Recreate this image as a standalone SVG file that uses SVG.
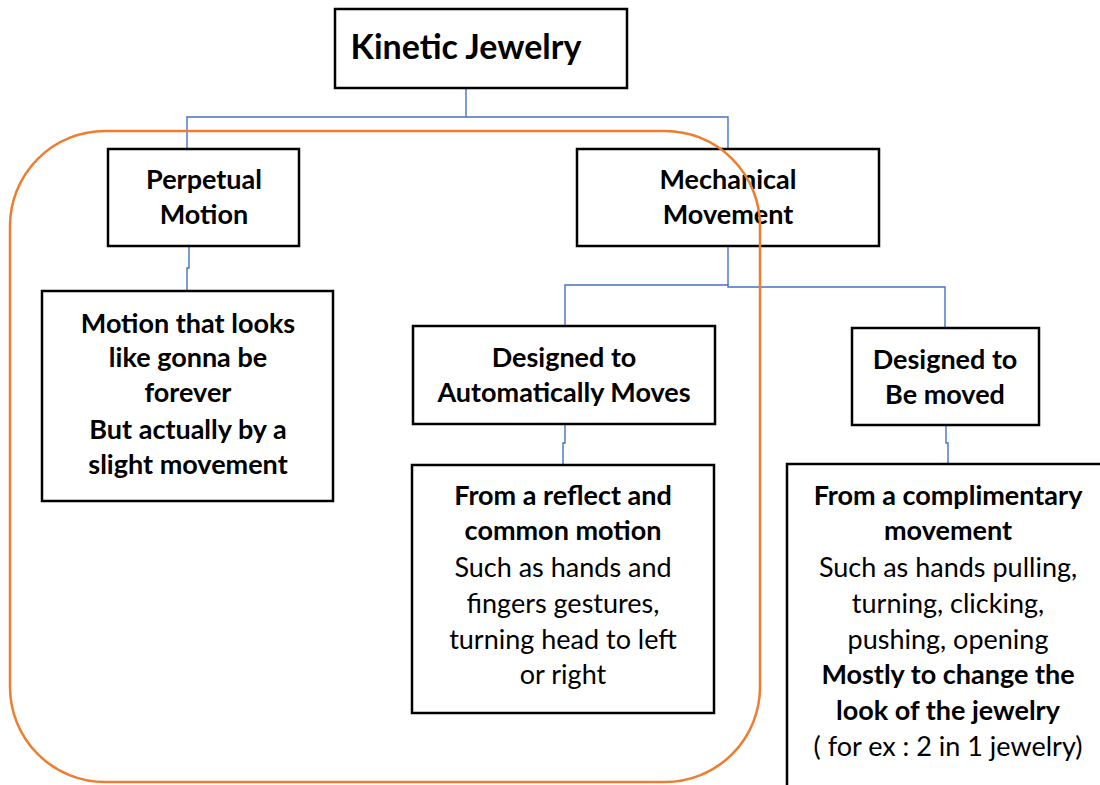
<svg xmlns="http://www.w3.org/2000/svg" width="1100" height="785" viewBox="0 0 1100 785">
  <style>
    .box { fill: #ffffff; stroke: #000000; stroke-width: 2.5; }
    .link { fill: none; stroke: #4472C4; stroke-width: 1.4; }
    .group { fill: none; stroke: #ED7D31; stroke-width: 2.5; }
    text { font-family: Lato, "Liberation Sans", sans-serif; font-size: 27px; fill: #000000; text-anchor: middle; }
    .b { font-weight: bold; }
    .title { font-size: 34px; font-weight: bold; }
  </style>
  <rect width="1100" height="785" fill="#ffffff"/>

  <g id="connectors">
    <polyline class="link" points="466,88 466,117"/>
    <polyline class="link" points="187,149 187,117 728,117 728,149"/>
    <polyline class="link" points="189,246 189,268 187,268 187,292"/>
    <polyline class="link" points="728,246 728,285"/>
    <polyline class="link" points="565,326 565,285 728,285 728,287 945,287 945,328"/>
    <polyline class="link" points="565,424 565,443 563,443 563,465"/>
    <polyline class="link" points="946,424 946,443 948,443 948,465"/>
  </g>

  <g id="node-kinetic">
    <rect class="box" x="335" y="9" width="292" height="79"/>
    <text class="title" x="466" y="59">Kinetic Jewelry</text>
  </g>

  <g id="node-perpetual">
    <rect class="box" x="108" y="149" width="191" height="97"/>
    <text class="b" x="204" y="189">Perpetual</text>
    <text class="b" x="204" y="224">Motion</text>
  </g>

  <g id="node-mechanical">
    <rect class="box" x="577" y="149" width="302" height="97"/>
    <text class="b" x="728" y="189">Mechanical</text>
    <text class="b" x="728" y="224">Movement</text>
  </g>

  <g id="node-perpetual-desc">
    <rect class="box" x="42" y="291" width="291" height="210"/>
    <text class="b" x="188" y="333">Motion that looks</text>
    <text class="b" x="188" y="367">like gonna be</text>
    <text class="b" x="188" y="402">forever</text>
    <text class="b" x="188" y="439">But actually by a</text>
    <text class="b" x="188" y="474">slight movement</text>
  </g>

  <g id="node-auto">
    <rect class="box" x="413" y="326" width="302" height="98"/>
    <text class="b" x="564" y="367">Designed to</text>
    <text class="b" x="564" y="402">Automatically Moves</text>
  </g>

  <g id="node-moved">
    <rect class="box" x="852" y="328" width="187" height="97"/>
    <text class="b" x="945" y="369">Designed to</text>
    <text class="b" x="945" y="404">Be moved</text>
  </g>

  <g id="node-auto-desc">
    <rect class="box" x="412" y="465" width="302" height="248"/>
    <text class="b" x="563" y="505">From a reflect and</text>
    <text class="b" x="563" y="540">common motion</text>
    <text x="563" y="577">Such as hands and</text>
    <text x="563" y="613">fingers gestures,</text>
    <text x="563" y="649">turning head to left</text>
    <text x="563" y="684">or right</text>
  </g>

  <g id="node-moved-desc">
    <rect class="box" x="787" y="464" width="330" height="340"/>
    <text class="b" x="948" y="505">From a complimentary</text>
    <text class="b" x="948" y="540">movement</text>
    <text x="948" y="577">Such as hands pulling,</text>
    <text x="948" y="613">turning, clicking,</text>
    <text x="948" y="649">pushing, opening</text>
    <text class="b" x="948" y="684">Mostly to change the</text>
    <text class="b" x="948" y="720">look of the jewelry</text>
    <text x="948" y="756">( for ex : 2 in 1 jewelry)</text>
  </g>

  <g id="group-outline">
    <rect class="group" x="10" y="131" width="750" height="651" rx="95" ry="95"/>
  </g>
</svg>
